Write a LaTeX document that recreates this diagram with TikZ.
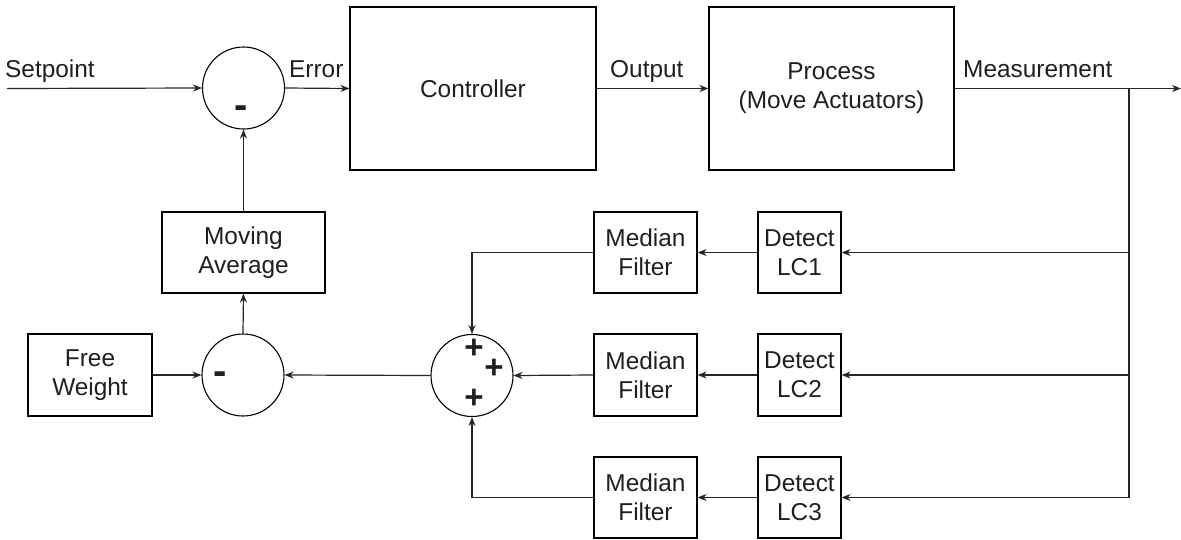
\documentclass[tikz,border=0pt]{standalone}
\usepackage{fontspec}
\setmainfont{Liberation Sans}
\usetikzlibrary{arrows.meta}
\begin{document}
\begin{tikzpicture}[x=1pt,y=-1pt,
  every node/.style={text=black!88},
  lbl/.style={font=\fontsize{24.4}{29}\selectfont, inner sep=0pt},
  blk/.style={draw, line width=1.2pt, font=\fontsize{24.4}{29}\selectfont,
    align=center, inner sep=0pt},
  sumnode/.style={draw, circle, line width=1.1pt, minimum size=82pt, inner sep=0pt},
  sgn/.style={font=\fontsize{33}{34}\bfseries\selectfont, inner sep=0pt},
  neg/.style={font=\fontsize{40}{40}\bfseries\selectfont, inner sep=0pt},
  wire/.style={line width=1.2pt, draw=black!85},
  arr/.style={wire, -{Stealth[length=9pt,width=7pt]}}
]
\useasboundingbox (0,0) rectangle (1181,539);

% forward path
\coordinate (spin) at (7,88.5);
\node[sumnode] (sum1) at (243.5,88) {};
\node[neg] (sum1m) at (241.5,112) {-};
\node[blk, minimum width=246pt, minimum height=163pt] (ctrl) at (473,88.5) {Controller};
\node[blk, minimum width=245pt, minimum height=163pt] (proc) at (831.5,88.5)
  {Process\\(Move Actuators)};
\coordinate (mout) at (1181,88.5);
\coordinate (tap) at (1129,88.5);

\node[lbl, anchor=base west] (splbl) at (5,77) {Setpoint};
\node[lbl, anchor=base west] (errlbl) at (289,77) {Error};
\node[lbl, anchor=base west] (outlbl) at (610,77) {Output};
\node[lbl, anchor=base west] (measlbl) at (963,77) {Measurement};

% sensing branches
\node[blk, minimum width=83pt, minimum height=81pt] (det1) at (799.5,252.5) {Detect\\LC1};
\node[blk, minimum width=83pt, minimum height=82pt] (det2) at (799.5,375) {Detect\\LC2};
\node[blk, minimum width=83pt, minimum height=81pt] (det3) at (799.5,497.5) {Detect\\LC3};
\node[blk, minimum width=103pt, minimum height=81pt] (med1) at (645.5,252.5) {Median\\Filter};
\node[blk, minimum width=103pt, minimum height=82pt] (med2) at (645.5,375) {Median\\Filter};
\node[blk, minimum width=103pt, minimum height=81pt] (med3) at (645.5,497.5) {Median\\Filter};

% summing of the three channels
\node[sumnode] (sum2) at (472,375.5) {};
\node[sgn] (p1) at (474,349) {+};
\node[sgn] (p2) at (494,369) {+};
\node[sgn] (p3) at (474,399) {+};

% weight compensation and averaging
\node[sumnode] (sum3) at (243,375) {};
\node[neg] (sum3m) at (220.5,378) {-};
\node[blk, minimum width=124pt, minimum height=82pt] (fw) at (90,375) {Free\\Weight};
\node[blk, minimum width=163pt, minimum height=81pt] (ma) at (243.5,252.5) {Moving\\Average};

% connectors
\draw[arr] (spin) -- (sum1.west);
\draw[arr] (sum1.east) -- (ctrl.west);
\draw[arr] (ctrl.east) -- (proc.west);
\draw[arr] (proc.east) -- (mout);
\draw[wire] (tap) -- (tap |- det3.east);
\draw[arr] (tap |- det1.east) -- (det1.east);
\draw[arr] (tap |- det2.east) -- (det2.east);
\draw[arr] (tap |- det3.east) -- (det3.east);
\draw[arr] (det1.west) -- (med1.east);
\draw[arr] (det2.west) -- (med2.east);
\draw[arr] (det3.west) -- (med3.east);
\draw[arr] (med1.west) -- (sum2 |- med1.west) -- (sum2.north);
\draw[arr] (med2.west) -- (sum2.east);
\draw[arr] (med3.west) -- (sum2 |- med3.west) -- (sum2.south);
\draw[arr] (sum2.west) -- (sum3.east);
\draw[arr] (fw.east) -- (sum3.west);
\draw[arr] (sum3.north) -- (ma.south);
\draw[arr] (ma.north) -- (sum1.south);
\end{tikzpicture}
\end{document}
